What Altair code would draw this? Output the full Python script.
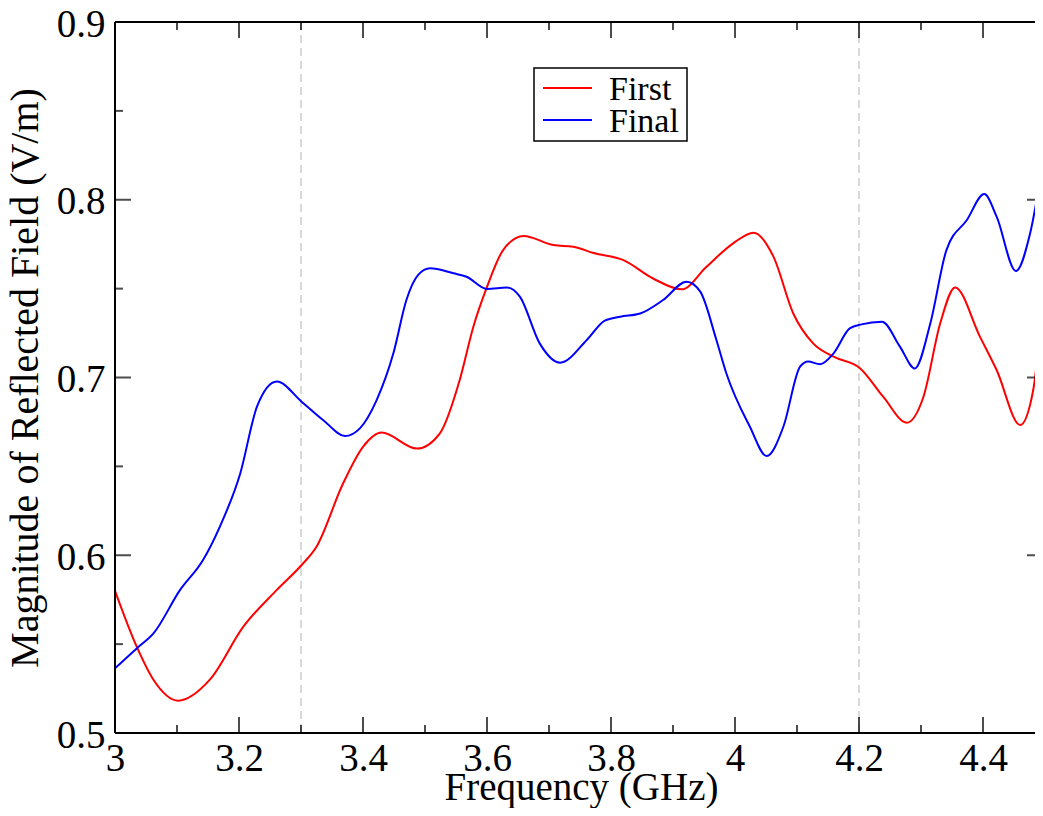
import altair as alt
import pandas as pd

# ---- data ----
freq_first = [3.000, 3.035, 3.062, 3.102, 3.153, 3.207, 3.261, 3.301, 3.325, 3.368,
              3.400, 3.430, 3.487, 3.524, 3.556, 3.578, 3.600, 3.626, 3.659, 3.707,
              3.739, 3.772, 3.820, 3.868, 3.914, 3.954, 3.997, 4.030, 4.062, 4.094,
              4.126, 4.159, 4.202, 4.239, 4.277, 4.304, 4.331, 4.355, 4.395, 4.422,
              4.460, 4.481, 4.4968]
val_first = [0.580, 0.5486, 0.530, 0.5182, 0.530, 0.5598, 0.5805, 0.5945, 0.6048, 0.6405,
             0.661, 0.669, 0.660, 0.6686, 0.6986, 0.7286, 0.751, 0.7717, 0.7796, 0.7745,
             0.7736, 0.770, 0.766, 0.7557, 0.7496, 0.7623, 0.7755, 0.7815, 0.768, 0.736,
             0.7192, 0.7117, 0.7051, 0.6892, 0.6746, 0.6892, 0.7305, 0.7507, 0.723, 0.7042,
             0.6733, 0.693, 0.745]

freq_final = [3.000, 3.035, 3.062, 3.105, 3.142, 3.169, 3.202, 3.229, 3.261, 3.301,
              3.336, 3.371, 3.395, 3.422, 3.449, 3.470, 3.489, 3.508, 3.546, 3.567,
              3.600, 3.632, 3.653, 3.685, 3.718, 3.761, 3.790, 3.815, 3.847, 3.884,
              3.922, 3.944, 3.970, 3.986, 4.024, 4.051, 4.078, 4.105, 4.118, 4.137,
              4.159, 4.185, 4.204, 4.237, 4.266, 4.290, 4.315, 4.341, 4.374, 4.402,
              4.422, 4.453, 4.476, 4.4968]
val_final = [0.5364, 0.5476, 0.556, 0.5805, 0.5973, 0.616, 0.646, 0.6836, 0.6977, 0.6864,
             0.676, 0.6671, 0.6714, 0.6873, 0.7136, 0.7436, 0.7577, 0.7614, 0.7586, 0.7567,
             0.7498, 0.7507, 0.7455, 0.7192, 0.7083, 0.7211, 0.732, 0.7342, 0.736, 0.7436,
             0.7539, 0.7483, 0.7211, 0.7024, 0.6723, 0.6558, 0.6723, 0.7061, 0.709, 0.7075,
             0.7136, 0.7276, 0.7299, 0.7314, 0.7174, 0.7051, 0.7304, 0.7717, 0.7886, 0.8032,
             0.7905, 0.7599, 0.7811, 0.821]

series_names = ["First", "Final"]
series_colors = ["#ff0000", "#0000ff"]

x_major = [3.0, 3.2, 3.4, 3.6, 3.8, 4.0, 4.2, 4.4]
x_minor = [3.1, 3.3, 3.5, 3.7, 3.9, 4.1, 4.3]
y_major = [0.5, 0.6, 0.7, 0.8, 0.9]
y_minor = [0.55, 0.65, 0.75, 0.85]
ref_lines = [3.3, 4.2]

# ---- layout ----
# The page body is 1027px wide, so the plot is cut at the right edge
# (the reference's frame runs just past the picture's edge).
W, H = 920, 711
XDOM = [3.0, 3.0 + 920 / 620]
YDOM = [0.5, 0.9]
FONT = "Liberation Serif"

xs = alt.Scale(domain=XDOM, nice=False, zero=False)
ys = alt.Scale(domain=YDOM, nice=False, zero=False)

df = pd.concat([
    pd.DataFrame({"freq": freq_first, "val": val_first, "series": series_names[0]}),
    pd.DataFrame({"freq": freq_final, "val": val_final, "series": series_names[1]}),
], ignore_index=True)

x_axis = alt.Axis(
    values=x_major, format="~g", title="Frequency (GHz)", orient="bottom",
    titleFont=FONT, titleFontSize=39, titleFontWeight="normal", titleColor="black",
    titleX=466, titleY=66, titleBaseline="alphabetic", titleAlign="center",
    labelFont=FONT, labelFontSize=39, labelColor="black", labelPadding=37,
    labelBaseline="alphabetic", labelFlush=False, labelOverlap=False, labelBound=False,
    ticks=False, tickSize=0, domain=False, grid=False,
)
y_axis = alt.Axis(
    values=y_major, format=".1f", title="Magnitude of Reflected Field (V/m)", orient="left",
    titleFont=FONT, titleFontSize=40, titleFontWeight="normal", titleColor="black",
    titleAngle=270, titleX=-78, titleY=H / 2, titleBaseline="alphabetic", titleAlign="center",
    labelFont=FONT, labelFontSize=39, labelColor="black", labelPadding=10, labelOffset=2,
    labelBaseline="middle", labelFlush=False, labelOverlap=False, labelBound=False,
    ticks=False, tickSize=0, domain=False, grid=False,
)

refs = alt.Chart(pd.DataFrame({"x": ref_lines})).mark_rule(
    color="#d9d9d9", strokeDash=[8, 5], strokeWidth=2
).encode(x=alt.X("x:Q", scale=xs, axis=None))

lines = alt.Chart(df).mark_line(strokeWidth=2, interpolate="monotone", clip=True).encode(
    x=alt.X("freq:Q", scale=xs, axis=x_axis),
    y=alt.Y("val:Q", scale=ys, axis=y_axis),
    color=alt.Color(
        "series:N",
        scale=alt.Scale(domain=series_names, range=series_colors),
        legend=None,
    ),
    detail="series:N",
)


def vticks(vals, ypx, size):
    return alt.Chart(pd.DataFrame({"t": vals})).mark_tick(
        orient="vertical", size=size, thickness=2, color="black"
    ).encode(x=alt.X("t:Q", scale=xs, axis=None), y=alt.value(ypx))


def hticks(vals, xpx, size):
    return alt.Chart(pd.DataFrame({"t": vals})).mark_tick(
        orient="horizontal", size=size, thickness=2, color="black"
    ).encode(y=alt.Y("t:Q", scale=ys, axis=None), x=alt.value(xpx))


ticks = [
    vticks(x_major, H - 8, 16), vticks(x_minor, H - 4, 8),
    vticks(x_major, 8, 16), vticks(x_minor, 4, 8),
    hticks(y_major, 8, 16), hticks(y_minor, 4, 8),
    hticks(y_major, W - 4, 8),
]

# ---- frame (left, top, bottom; the right side lies past the picture's edge) ----
one = pd.DataFrame({"k": [0]})
frame = [
    alt.Chart(one).mark_rule(color="black", strokeWidth=2).encode(
        x=alt.value(0), y=alt.value(0), y2=alt.value(H)),
    alt.Chart(one).mark_rule(color="black", strokeWidth=2).encode(
        x=alt.value(0), x2=alt.value(W), y=alt.value(0)),
    alt.Chart(one).mark_rule(color="black", strokeWidth=2).encode(
        x=alt.value(0), x2=alt.value(W), y=alt.value(H)),
]

# ---- legend (box, sample lines, labels) ----
LX, LY = 419, 46
legend_box = alt.Chart(one).mark_rect(
    fill="white", stroke="black", strokeWidth=1.5
).encode(x=alt.value(LX), x2=alt.value(LX + 153), y=alt.value(LY), y2=alt.value(LY + 73))

legend_parts = [legend_box]
for i, (name, col) in enumerate(zip(series_names, series_colors)):
    row_y = LY + 20 + 32 * i
    legend_parts.append(
        alt.Chart(pd.DataFrame({"series": [name]})).mark_rule(color=col, strokeWidth=2).encode(
            x=alt.value(LX + 9), x2=alt.value(LX + 58), y=alt.value(row_y)
        )
    )
    legend_parts.append(
        alt.Chart(pd.DataFrame({"series": [name]})).mark_text(
            font=FONT, fontSize=34, color="black", align="left", baseline="alphabetic"
        ).encode(text="series:N", x=alt.value(LX + 75), y=alt.value(row_y + 12))
    )

chart = alt.layer(refs, lines, *ticks, *frame, *legend_parts).resolve_axis(
    x="independent", y="independent"
).properties(
    width=W, height=H,
    padding={"left": 107, "top": 14, "right": 0, "bottom": 75},
    autosize=alt.AutoSizeParams(type="none"),
    background="white",
).configure_view(stroke="transparent", strokeWidth=0)

chart.save("out.html", embed_options={"renderer": "svg", "actions": False})
